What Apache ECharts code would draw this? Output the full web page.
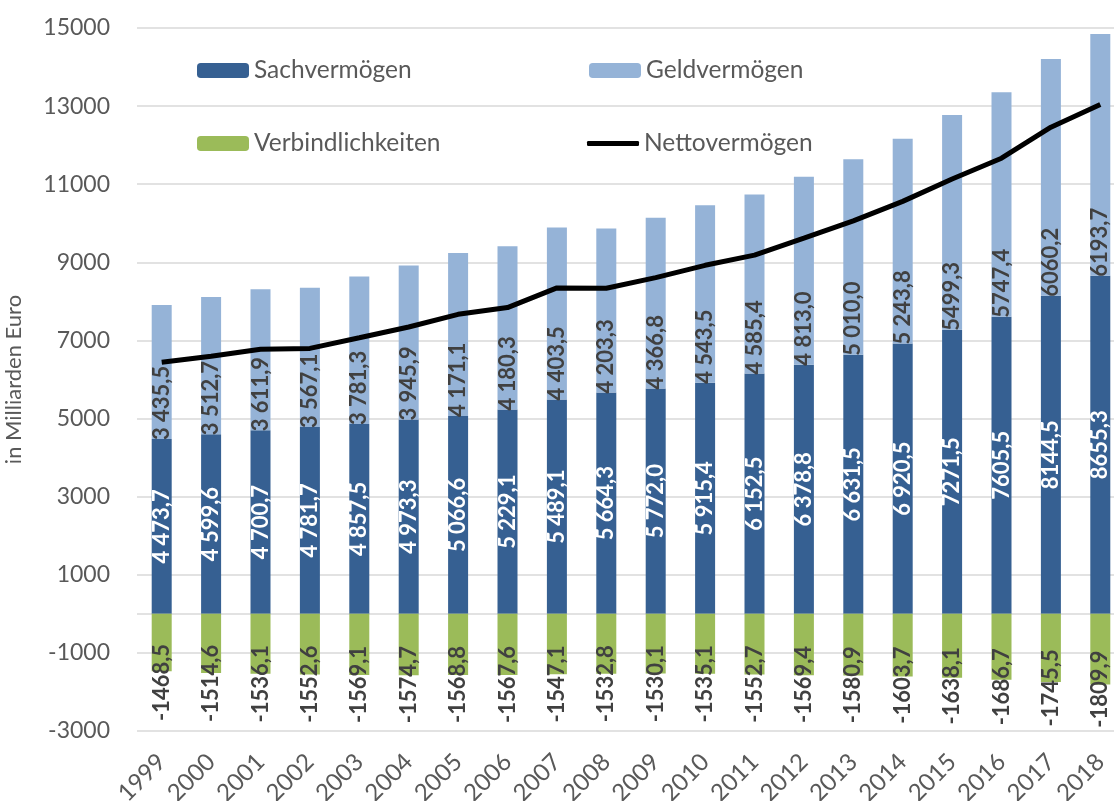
<!DOCTYPE html>
<html>
<head>
<meta charset="utf-8">
<script src="https://cdn.jsdelivr.net/npm/echarts@6/dist/echarts.min.js"></script>
<style>
  html, body { margin: 0; padding: 0; background: #fff; }
  #chart { width: 1114px; height: 801px; }
</style>
</head>
<body>
<div id="chart"></div>
<script>
// Vermögen der privaten Haushalte, Mrd. Euro
var years = ['1999', '2000', '2001', '2002', '2003', '2004', '2005', '2006', '2007', '2008',
    '2009', '2010', '2011', '2012', '2013', '2014', '2015', '2016', '2017', '2018'];
var sachvermoegen = [4473.7, 4599.6, 4700.7, 4781.7, 4857.5, 4973.3, 5066.6, 5229.1, 5489.1, 5664.3,
    5772.0, 5915.4, 6152.5, 6378.8, 6631.5, 6920.5, 7271.5, 7605.5, 8144.5, 8655.3];
var geldvermoegen = [3435.5, 3512.7, 3611.9, 3567.1, 3781.3, 3945.9, 4171.1, 4180.3, 4403.5, 4203.3,
    4366.8, 4543.5, 4585.4, 4813.0, 5010.0, 5243.8, 5499.3, 5747.4, 6060.2, 6193.7];
var verbindlichkeiten = [-1468.5, -1514.6, -1536.1, -1552.6, -1569.1, -1574.7, -1568.8, -1567.6, -1547.1, -1532.8,
    -1530.1, -1535.1, -1552.7, -1569.4, -1580.9, -1603.7, -1638.1, -1686.7, -1745.5, -1809.9];
var nettovermoegen = [6440.7, 6597.7, 6776.5, 6796.2, 7069.7, 7344.5, 7668.9, 7841.8, 8345.5, 8334.8,
    8608.7, 8923.8, 9185.2, 9622.4, 10060.6, 10560.6, 11132.7, 11666.2, 12459.2, 13039.1];
var yLabels = [-3000, -1000, 1000, 3000, 5000, 7000, 9000, 11000, 13000, 15000];
var yLines = [-3000, -1000, 0, 1000, 3000, 5000, 7000, 9000, 11000, 13000, 15000];

var font = 'Lato';
var grey = '#595959';

// bis 2014 mit Tausendertrennung, danach ohne
function fmt(grouped) {
    return function (p) {
        var s = Math.abs(p.value).toFixed(1).replace('.', ',');
        var parts = s.split(',');
        var ip = parts[0];
        if (grouped && p.dataIndex <= 15 && ip.length > 3) {
            ip = ip.slice(0, ip.length - 3) + ' ' + ip.slice(ip.length - 3);
        }
        return (p.value < 0 ? '-' : '') + ip + ',' + parts[1];
    };
}

var chart = echarts.init(document.getElementById('chart'));
var option = {
    backgroundColor: '#fff',
    animation: false,
    textStyle: { fontFamily: font },
    grid: { left: 137, top: 28, width: 988, height: 703, containLabel: false, outerBoundsMode: 'none' },
    legend: [
        { data: ['Sachvermögen'], left: 197, top: 58, itemHeight: 15 },
        { data: ['Geldvermögen'], left: 589, top: 58, itemHeight: 15 },
        { data: ['Verbindlichkeiten'], left: 197, top: 131, itemHeight: 15 },
        { data: [{ name: 'Nettovermögen', icon: 'roundRect' }], left: 587, top: 131, itemHeight: 5 }
    ].map(function (l) {
        l.itemWidth = 52;
        l.itemGap = 6;
        l.padding = 0;
        l.textStyle = { color: grey, fontSize: 24.5, fontFamily: font };
        return l;
    }),
    xAxis: {
        type: 'category',
        data: years,
        axisLine: { show: false, onZero: false },
        axisTick: { show: false },
        axisLabel: { rotate: 45, color: grey, fontSize: 24, margin: 27, interval: 0 }
    },
    yAxis: {
        type: 'value',
        min: -3000,
        max: 15000,
        interval: 1000,
        name: 'in Milliarden Euro',
        nameLocation: 'middle',
        nameGap: 112,
        nameTextStyle: { color: grey, fontSize: 22 },
        axisLine: { show: false },
        axisTick: { show: false, customValues: yLines },
        axisLabel: {
            color: grey, fontSize: 23, margin: 27, customValues: yLabels,
            formatter: function (v) { return String(v); }
        },
        splitLine: { show: true, lineStyle: { color: '#d9d9d9', width: 1.5 } }
    },
    series: [
        {
            name: 'Sachvermögen',
            type: 'bar',
            stack: 'v',
            barWidth: 20,
            data: sachvermoegen,
            itemStyle: { color: '#366092' },
            label: {
                show: true, position: 'inside', rotate: 90,
                color: '#fff', fontWeight: 'bold', fontSize: 22,
                formatter: fmt(true)
            }
        },
        {
            name: 'Geldvermögen',
            type: 'bar',
            stack: 'v',
            barWidth: 20,
            data: geldvermoegen,
            itemStyle: { color: '#95b3d7' },
            label: {
                show: true, position: 'insideBottom', distance: -1, rotate: 90,
                align: 'left', verticalAlign: 'middle',
                color: '#404040', fontWeight: 'bold', fontSize: 22,
                formatter: fmt(true)
            }
        },
        {
            name: 'Verbindlichkeiten',
            type: 'bar',
            stack: 'v',
            barWidth: 20,
            data: verbindlichkeiten,
            itemStyle: { color: '#9bbb59' },
            label: {
                show: true, position: 'inside', rotate: 90, offset: [-40, 0],
                color: '#404040', fontWeight: 'bold', fontSize: 22,
                formatter: fmt(false)
            }
        },
        {
            name: 'Nettovermögen',
            type: 'line',
            data: nettovermoegen,
            symbol: 'none',
            z: 5,
            itemStyle: { color: '#000' },
            lineStyle: { color: '#000', width: 5 }
        }
    ]
};
chart.setOption(option);
</script>
</body>
</html>
